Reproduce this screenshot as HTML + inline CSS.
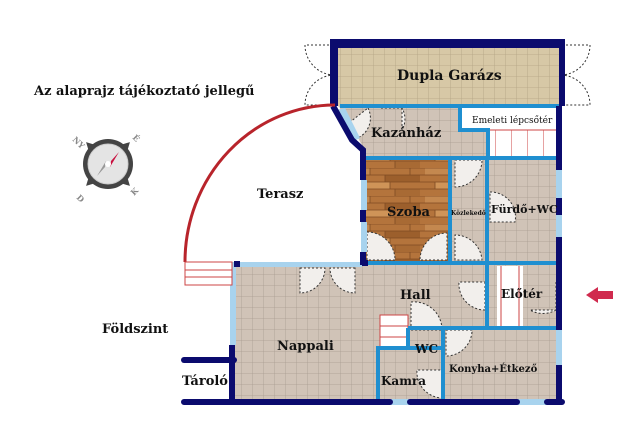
<!DOCTYPE html>
<html><head><meta charset="utf-8"><style>
html,body{margin:0;padding:0;background:#fff;}
svg{display:block;}
text{font-family:"DejaVu Serif","Liberation Serif",serif;font-weight:bold;fill:#111;}
</style></head><body>
<svg width="640" height="438" viewBox="0 0 640 438" xmlns="http://www.w3.org/2000/svg">
<defs>
<pattern id="tg" width="11" height="11" patternUnits="userSpaceOnUse">
<rect width="11" height="11" fill="#d7c8a6"/><path d="M11 0V11M0 11H11" stroke="#b3a384" stroke-width="0.8"/></pattern>
<pattern id="tr" width="11" height="11" patternUnits="userSpaceOnUse">
<rect width="11" height="11" fill="#d0c3b7"/><path d="M11 0V11M0 11H11" stroke="#a99c90" stroke-width="0.8"/></pattern>
<pattern id="wd" width="85" height="28" patternUnits="userSpaceOnUse">
<rect width="85" height="28" fill="#b4743c"/>
<rect x="0" y="0" width="30" height="7" fill="#c4884f"/>
<rect x="45" y="7" width="35" height="7" fill="#9c5f2c"/>
<rect x="10" y="14" width="40" height="7" fill="#cf9458"/>
<rect x="55" y="21" width="25" height="7" fill="#a86a34"/>
<path d="M0 0H85M0 7H85M0 14H85M0 21H85" stroke="#7e4a22" stroke-width="0.8"/>
<path d="M30 0V7M45 7V14M10 14V21M50 14V21M55 21V28M70 0V7" stroke="#7e4a22" stroke-width="0.8"/></pattern>
<pattern id="st" width="16" height="10" patternUnits="userSpaceOnUse">
<rect width="16" height="10" fill="#fff"/><path d="M16 0V10" stroke="#c44" stroke-width="1"/></pattern>
</defs>

<!-- garage -->
<rect x="336" y="45" width="224" height="61" fill="url(#tg)"/>
<!-- upper grey -->
<path d="M338 106H560V158H365V150L340 108Z" fill="url(#tr)"/>
<rect x="460" y="106" width="100" height="24" fill="#fff"/>
<rect x="490" y="130" width="70" height="26" fill="url(#st)"/>
<line x1="490" y1="130" x2="558" y2="130" stroke="#c44" stroke-width="1"/>
<!-- szoba -->
<rect x="365" y="158" width="85" height="105" fill="url(#wd)"/>
<rect x="450" y="158" width="108" height="105" fill="url(#tr)"/>
<!-- main -->
<rect x="232" y="263" width="326" height="139" fill="url(#tr)"/>
<rect x="497" y="266" width="26" height="62" fill="#fff"/>
<path d="M501 266V328M519 266V328" stroke="#c44" stroke-width="1"/>
<rect x="380" y="315" width="28" height="32" fill="#fff" stroke="#c44" stroke-width="1"/>
<path d="M380 326H408M380 337H408" stroke="#c44" stroke-width="1"/>

<!-- garage doors -->
<g fill="none" stroke="#333" stroke-width="1" stroke-dasharray="2,2">
<path d="M333 45H305A30 30 0 0 0 333 75A30 30 0 0 0 305 105H333"/>
<path d="M562 45H590A30 30 0 0 1 562 75A30 30 0 0 1 590 105H562"/>
</g>
<!-- doors -->
<g fill="#f2efec" stroke="#333" stroke-width="1" stroke-dasharray="2,2">
<path d="M402 108V130A22 22 0 0 0 402 108H380" />
<path d="M368 108A22 22 0 0 1 350 140L345 126Z"/>
<path d="M455 160H482A27 27 0 0 1 455 187Z"/>
<path d="M455 260V235A27 27 0 0 1 482 260Z"/>
<path d="M490 192A25 25 0 0 1 515 222H490Z"/>
<path d="M367 260V232A28 28 0 0 1 395 260Z"/>
<path d="M447 260H420A27 27 0 0 1 447 233Z"/>
<path d="M300 268H325A25 25 0 0 1 300 293Z"/>
<path d="M355 268H330A25 25 0 0 0 355 293Z"/>
<path d="M485 282V310A26 26 0 0 1 459 282Z"/>
<path d="M556 282V310A26 26 0 0 1 530 310H556"/>
<path d="M411 330V302A28 28 0 0 1 442 330Z"/>
<path d="M446 330H472A26 26 0 0 1 446 356Z"/>
<path d="M443 370V398A26 26 0 0 1 417 370Z"/>
</g>

<!-- light blue inner walls -->
<g stroke="#1f8fd0" stroke-width="4" fill="none">
<path d="M340 106H560"/>
<path d="M460 106V130H488V158"/>
<path d="M365 158H558"/>
<path d="M450 158V263"/>
<path d="M487 158V328"/>
<path d="M365 263H558"/>
<path d="M487 328H558"/>
<path d="M408 328H558"/>
<path d="M408 328V348H443V328"/>
<path d="M378 400V348H408"/>
<path d="M443 348V400"/>
</g>
<!-- windows light -->
<g fill="#a8d3ee">
<rect x="232" y="262" width="130" height="5"/>
<rect x="230" y="265" width="6" height="80"/>
<rect x="556" y="170" width="6" height="28"/>
<rect x="556" y="215" width="6" height="22"/>
<rect x="556" y="330" width="6" height="35"/>
<rect x="390" y="399" width="20" height="6"/>
<rect x="517" y="399" width="30" height="6"/>
<rect x="361" y="180" width="6" height="30"/>
<rect x="361" y="222" width="6" height="30"/>
<path d="M336 110L345 108L360 138L352 142Z"/>
</g>
<!-- dark walls -->
<g stroke="#0b0b6e" stroke-width="6" fill="none" stroke-linecap="butt">
<path d="M333 106V42H562V106"/>
<path d="M336 45H562"/>
<path d="M559 106V170M559 198V215M559 237V330M559 365V405"/>
<path d="M333 106L352 140L363 150V180M363 210V222M363 252V265"/>
<path d="M232 345V402"/>
<path d="M234 264H240"/>
<path d="M362 263H368"/>
</g>
<path d="M184 360H234" stroke="#0b0b6e" stroke-width="6" stroke-linecap="round"/>
<path d="M184 402H390M410 402H517M547 402H562" stroke="#0b0b6e" stroke-width="6" stroke-linecap="round"/>
<rect x="335" y="45" width="3" height="61" fill="#0b0b6e"/>

<!-- terrace arc -->
<path d="M185 262A150 157 0 0 1 335 105" fill="none" stroke="#b8242b" stroke-width="3"/>
<rect x="185" y="262" width="47" height="23" fill="#fff" stroke="#c44" stroke-width="1"/>
<path d="M185 270H232M185 277H232" stroke="#c44" stroke-width="1"/>

<!-- arrow -->
<path d="M586 295L598 287V291H613V299H598V303Z" fill="#d02a4e"/>

<!-- compass -->
<g transform="translate(108,164)">
<path d="M0 -31L7 -18H-7Z" fill="#444" transform="rotate(-45)"/>
<path d="M0 -31L7 -18H-7Z" fill="#444" transform="rotate(45)"/>
<path d="M0 -31L7 -18H-7Z" fill="#444" transform="rotate(135)"/>
<path d="M0 -31L7 -18H-7Z" fill="#444" transform="rotate(-135)"/>
<circle r="25" fill="#444"/>
<circle r="20" fill="#e4e4e4" stroke="#ccc"/>
<path d="M3 -3L11 -12L2 3Z" fill="#c8103f"/>
<path d="M-3 3L-11 12L-2 -3Z" fill="#999"/>
<circle r="3" fill="#fff"/>
<text x="-36" y="-24" font-size="8" style="fill:#888" transform="rotate(45 -36 -24)">NY</text>
<text x="24" y="-26" font-size="8" style="fill:#888" transform="rotate(45 24 -26)">É</text>
<text x="-32" y="34" font-size="8" style="fill:#888" transform="rotate(45 -32 34)">D</text>
<text x="26" y="32" font-size="8" style="fill:#888" transform="rotate(-45 26 32)">K</text>
</g>

<!-- labels -->
<text x="34" y="95" font-size="13">Az alaprajz tájékoztató jellegű</text>
<text x="397" y="80" font-size="14">Dupla Garázs</text>
<text x="371" y="137" font-size="13">Kazánház</text>
<text x="472" y="123" font-size="9" style="font-weight:normal">Emeleti lépcsőtér</text>
<text x="257" y="198" font-size="13">Terasz</text>
<text x="387" y="216" font-size="13">Szoba</text>
<text x="451" y="215" font-size="6">Közlekedő</text>
<text x="491" y="213" font-size="11">Fürdő+WC</text>
<text x="400" y="299" font-size="13">Hall</text>
<text x="501" y="298" font-size="12">Előtér</text>
<text x="277" y="350" font-size="13">Nappali</text>
<text x="415" y="353" font-size="12">WC</text>
<text x="381" y="385" font-size="12">Kamra</text>
<text x="449" y="372" font-size="10">Konyha+Étkező</text>
<text x="102" y="333" font-size="13">Földszint</text>
<text x="182" y="385" font-size="13">Tároló</text>
</svg>
</body></html>
